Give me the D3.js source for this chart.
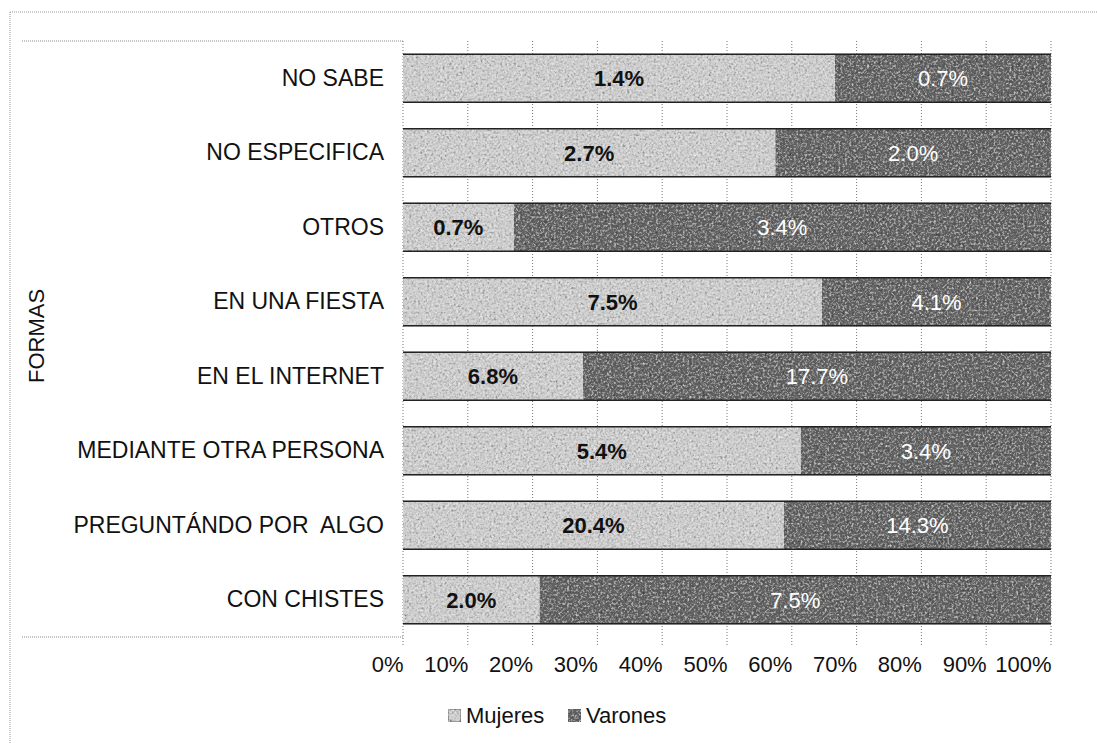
<!DOCTYPE html>
<html>
<head>
<meta charset="utf-8">
<script src="https://cdn.jsdelivr.net/npm/d3@7"></script>
<style>
body { margin: 0; background: #fff; }
text { font-family: "Liberation Sans", Arial, sans-serif; white-space: pre; }
</style>
</head>
<body>
<div id="chart"></div>
<script>
// data
var categories = ["NO SABE", "NO ESPECIFICA", "OTROS", "EN UNA FIESTA", "EN EL INTERNET",
  "MEDIANTE OTRA PERSONA", "PREGUNTÁNDO POR  ALGO", "CON CHISTES"];
var mujeres = [1.4, 2.7, 0.7, 7.5, 6.8, 5.4, 20.4, 2.0];
var varones = [0.7, 2.0, 3.4, 4.1, 17.7, 3.4, 14.3, 7.5];
var tickValues = [0, 0.1, 0.2, 0.3, 0.4, 0.5, 0.6, 0.7, 0.8, 0.9, 1];
var seriesNames = ["Mujeres", "Varones"];

var W = 1097, H = 743;
var margin = {top: 41, right: 46, bottom: 106, left: 403},
    width = W - margin.left - margin.right,
    height = H - margin.top - margin.bottom;

var root = d3.select("#chart").append("svg")
  .attr("width", W)
  .attr("height", H);

// grainy scan-like texture
var defs = root.append("defs");
var f = defs.append("filter").attr("id", "grain")
  .attr("x", 0).attr("y", 0).attr("width", 1).attr("height", 1);
f.append("feTurbulence").attr("type", "fractalNoise")
  .attr("baseFrequency", 0.45).attr("numOctaves", 3).attr("seed", 7).attr("result", "noise");
f.append("feColorMatrix").attr("in", "noise").attr("type", "matrix")
  .attr("values", "0.4 0.4 0.4 0 -0.1  0.4 0.4 0.4 0 -0.1  0.4 0.4 0.4 0 -0.1  0 0 0 0 1")
  .attr("result", "gray");
f.append("feBlend").attr("in", "SourceGraphic").attr("in2", "gray").attr("mode", "overlay").attr("result", "blend");
f.append("feComposite").attr("in", "blend").attr("in2", "SourceGraphic").attr("operator", "in");

// outer frame (dotted, like the scan)
root.append("line").attr("x1", 10).attr("x2", W).attr("y1", 12).attr("y2", 12)
  .attr("stroke", "#999").attr("stroke-dasharray", "1,1");
root.append("line").attr("x1", 10).attr("x2", 10).attr("y1", 12).attr("y2", H)
  .attr("stroke", "#999").attr("stroke-dasharray", "1,1");
// box around category labels
root.append("line").attr("x1", 22).attr("x2", margin.left).attr("y1", margin.top).attr("y2", margin.top)
  .attr("stroke", "#888").attr("stroke-dasharray", "1,1");
root.append("line").attr("x1", 22).attr("x2", margin.left).attr("y1", margin.top + height).attr("y2", margin.top + height)
  .attr("stroke", "#888").attr("stroke-dasharray", "1,1");

var svg = root.append("g")
  .attr("transform", "translate(" + margin.left + "," + margin.top + ")");

var x = d3.scaleLinear().domain([0, 1]).range([0, width]);
var y = d3.scaleBand().domain(categories).range([0, height]).paddingInner(0.34).paddingOuter(0.17);

// gridlines
svg.append("g")
  .selectAll("line")
  .data(tickValues)
  .enter().append("line")
  .attr("x1", function(d) { return x(d); })
  .attr("x2", function(d) { return x(d); })
  .attr("y1", 0)
  .attr("y2", height + 8)
  .attr("stroke", "#777")
  .attr("stroke-dasharray", "1,2");

// x axis labels (right aligned on the gridline, like the original)
var xAxis = svg.append("g")
  .attr("transform", "translate(0," + height + ")")
  .call(d3.axisBottom(x).tickValues(tickValues).tickFormat(d3.format(".0%")).tickSize(0).tickPadding(19));
xAxis.select(".domain").remove();
xAxis.selectAll("text").style("font-size", "22px").attr("fill", "#111")
  .attr("text-anchor", "end")
  .style("font-family", "'Liberation Sans', Arial, sans-serif");

// y axis labels
var yAxis = svg.append("g")
  .call(d3.axisLeft(y).tickSize(0).tickPadding(19));
yAxis.select(".domain").remove();
yAxis.selectAll("text").style("font-size", "23px").attr("fill", "#111")
  .style("font-family", "'Liberation Sans', Arial, sans-serif");

// stacked 100% data
var rows = categories.map(function(c, i) {
  var t = mujeres[i] + varones[i];
  return {cat: c, m: mujeres[i], v: varones[i], pm: mujeres[i] / t, pv: varones[i] / t};
});

var fills = ["#cdcdcd", "#646464"];

// Mujeres segments
svg.append("g").selectAll("rect")
  .data(rows).enter().append("rect")
  .attr("x", 0)
  .attr("y", function(d) { return y(d.cat); })
  .attr("width", function(d) { return x(d.pm); })
  .attr("height", y.bandwidth())
  .attr("fill", fills[0])
  .attr("filter", "url(#grain)");

// Varones segments
svg.append("g").selectAll("rect")
  .data(rows).enter().append("rect")
  .attr("x", function(d) { return x(d.pm); })
  .attr("y", function(d) { return y(d.cat); })
  .attr("width", function(d) { return x(d.pv); })
  .attr("height", y.bandwidth())
  .attr("fill", fills[1])
  .attr("filter", "url(#grain)");

// dark edges top and bottom of bars
svg.append("g").selectAll("line")
  .data(rows).enter().append("line")
  .attr("x1", 0).attr("x2", width)
  .attr("y1", function(d) { return y(d.cat) + 0.5; })
  .attr("y2", function(d) { return y(d.cat) + 0.5; })
  .attr("stroke", "#222").attr("stroke-width", 1.5);
svg.append("g").selectAll("line")
  .data(rows).enter().append("line")
  .attr("x1", 0).attr("x2", width)
  .attr("y1", function(d) { return y(d.cat) + y.bandwidth() - 0.5; })
  .attr("y2", function(d) { return y(d.cat) + y.bandwidth() - 0.5; })
  .attr("stroke", "#222").attr("stroke-width", 1.5);

// value labels
svg.append("g").selectAll("text")
  .data(rows).enter().append("text")
  .attr("x", function(d) { return x(d.pm / 2); })
  .attr("y", function(d) { return y(d.cat) + y.bandwidth() / 2; })
  .attr("dy", "0.36em")
  .attr("text-anchor", "middle")
  .style("font-size", "22px")
  .style("font-weight", "bold")
  .attr("fill", "#111")
  .text(function(d) { return d.m.toFixed(1) + "%"; });

svg.append("g").selectAll("text")
  .data(rows).enter().append("text")
  .attr("x", function(d) { return x(d.pm + d.pv / 2); })
  .attr("y", function(d) { return y(d.cat) + y.bandwidth() / 2; })
  .attr("dy", "0.36em")
  .attr("text-anchor", "middle")
  .style("font-size", "22px")
  .attr("fill", "#fff")
  .text(function(d) { return d.v.toFixed(1) + "%"; });

// axis title
root.append("text")
  .attr("transform", "translate(44,336) rotate(-90)")
  .attr("text-anchor", "middle")
  .style("font-size", "22px")
  .attr("fill", "#111")
  .text("FORMAS");

// legend
var legend = root.append("g").attr("transform", "translate(448,715)");
var lx = [0, 120];
seriesNames.forEach(function(n, i) {
  legend.append("rect")
    .attr("x", lx[i]).attr("y", -6)
    .attr("width", 13).attr("height", 13)
    .attr("fill", fills[i])
    .attr("stroke", i === 0 ? "#555" : "none")
    .attr("filter", "url(#grain)");
  legend.append("text")
    .attr("x", lx[i] + 18).attr("y", 0)
    .attr("dy", "0.36em")
    .style("font-size", "22px")
    .attr("fill", "#111")
    .text(n);
});
</script>
</body>
</html>
